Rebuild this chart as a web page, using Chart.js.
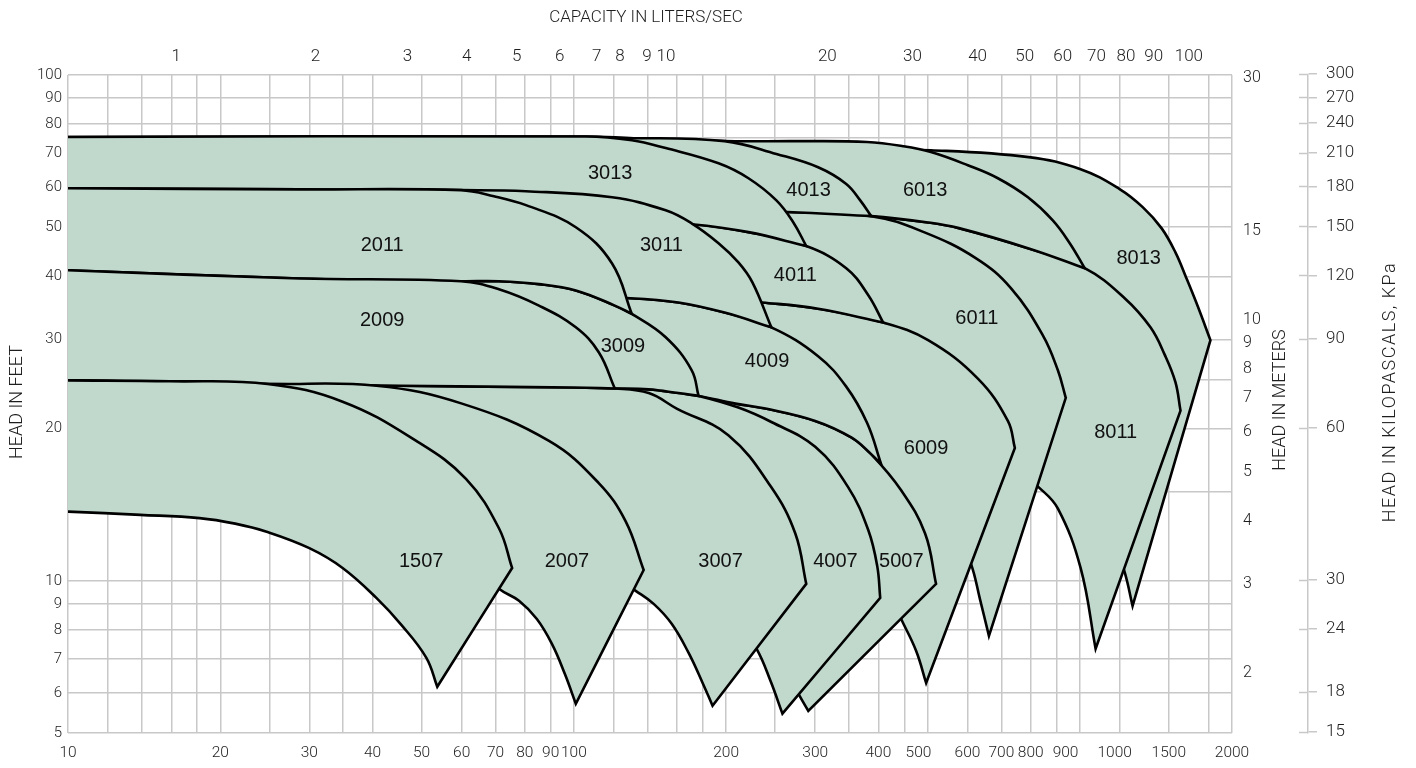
<!DOCTYPE html>
<html>
<head>
<meta charset="utf-8">
<script src="https://cdn.jsdelivr.net/npm/chart.js@4.4.1/dist/chart.umd.min.js"></script>
<style>
  html, body { margin: 0; padding: 0; background: #ffffff; }
  #wrap { width: 1416px; height: 768px; }
</style>
</head>
<body>
<div id="wrap"><canvas id="pumpChart" width="1416" height="768"></canvas></div>
<script>
// Pump selection chart: capacity in US GPM (log) against head in feet (log).
// Each model is an area bounded by its largest and smallest impeller curves.

// ---- axis values ----
const gridGpm = [10,12,14,16,18,20,25,30,35,40,50,60,70,80,90,100,120,140,160,180,200,250,300,350,400,450,500,600,700,800,900,1000,1200,1500,1800,2000];
const gpmLabels = [10,20,30,40,50,60,70,80,90,100,200,300,400,500,600,700,800,900,1000,1500,2000];
const gridFeet = [5,6,7,8,9,10,15,20,25,30,40,50,60,70,75,80,90,100];
const feetLabels = [5,6,7,8,9,10,20,30,40,50,60,70,80,90,100];
const litersPerSec = [1,2,3,4,5,6,7,8,9,10,20,30,40,50,60,70,80,90,100];
const meterLabels = [2,3,4,5,6,7,8,9,10,15,30];
const kpaLabels = [15,18,24,30,60,90,120,150,180,210,240,270,300];

const GPM_PER_LPS = 15.85;
const FT_PER_M = 3.2808;
const KPA_PER_FT = 2.989;

// ---- model curves: [GPM, feet], left to right ----
// "top" = largest impeller curve, "bottom" = smallest impeller curve;
// the last point of each is the right-hand corner / lower tip of the area.
const top1507 = [[10,24.9],[15.9,24.8],[24.8,24.5],[34.9,22.6],[48.8,18.9],[61.2,15.9],[71.1,12.7],[75.5,10.6]];
const bottom1507 = [[10,13.7],[13.9,13.5],[18.2,13.3],[21.4,12.97],[24.7,12.5],[30.0,11.6],[34.9,10.6],[40.7,9.25],[45.6,8.18],[51.1,7.04],[53.7,6.17]];

const top2007 = [[10,24.9],[24.8,24.5],[40.7,24.3],[60.1,22.4],[89.3,18.9],[112,15.6],[126.6,13.1],[137.4,10.5]];
const bottom2007 = [[10,14.7],[22.9,14.4],[36,13.8],[49.5,12.3],[62.1,10.9],[71.1,9.64],[77.9,9.13],[84.5,8.40],[90.5,7.50],[96.0,6.54],[100.9,5.71]];

const top3007 = [[10,24.9],[24.8,24.5],[45.2,24.3],[100,24.1],[120.5,24.0],[140.6,23.5],[159.7,21.9],[202,19.4],[245.7,15.3],[274,12.4],[288,9.86]];
const bottom3007 = [[10,15.5],[28.7,14.4],[56.7,13.4],[89.3,12.0],[112,10.7],[132.5,9.55],[143.8,9.0],[156.1,8.22],[168.6,7.20],[179.7,6.28],[188,5.66]];

const top4007 = [[10,24.9],[24.8,24.5],[45.2,24.3],[100,24.1],[120.5,24.0],[140.6,23.9],[161,23.5],[176.4,23.2],[211.5,22.0],[245.7,20.6],[300,18.4],[348.7,15.3],[381.9,12.6],[397.8,10.7],[403.3,9.25]];
const bottom4007 = [[10,16.5],[45.2,14.1],[89.3,12.6],[140.6,11.0],[176.4,9.55],[206.9,8.53],[229.6,7.34],[244.7,6.34],[258.4,5.46]];

const top5007 = [[10,24.9],[24.8,24.5],[45.2,24.3],[100,24.1],[120.5,24.0],[140.6,23.9],[161,23.5],[176.4,23.2],[208.7,22.4],[239.2,21.9],[300,20.7],[353.5,19.2],[387,17.8],[443.6,15.1],[494.7,12.4],[520,9.86]];
const bottom5007 = [[10,17.5],[45.2,14.4],[112,12.0],[176.4,10.0],[231.7,7.61],[261.8,6.63],[277.8,5.98],[290.7,5.53]];

const top2009 = [[10,41.1],[28.7,39.6],[59.8,39.1],[71.1,37.7],[85.3,35.0],[100.9,31.7],[112,28.3],[120.5,24.0]];
const bottom2009 = [[10,24.9],[24.8,24.5],[45.2,24.3],[100,24.1],[120.5,24.0]];

const top3009 = [[10,41.1],[28.7,39.6],[59.8,39.1],[71.1,39.1],[85.3,38.6],[100.9,37.5],[120.5,35.0],[130.2,33.7],[151.9,30.3],[170.9,26.1],[176.4,23.2]];
const bottom3009 = [[10,24.9],[24.8,24.5],[45.2,24.3],[100,24.1],[120.5,24.0],[140.6,23.9],[161,23.5],[176.4,23.2]];

const top4009 = [[10,36.9],[45.2,36.7],[89.3,36.5],[129.5,36.2],[161,35.5],[198.6,33.9],[245.7,31.7],[304,27.8],[345.5,24.2],[380,20.5],[405,17.0]];
const bottom4009 = [[10,24.9],[24.8,24.5],[45.2,24.3],[100,24.1],[120.5,24.0],[140.6,23.9],[161,23.5],[176.4,23.2],[208.7,22.4],[239.2,21.9],[300,20.7],[353.5,19.2],[387,17.8],[405,17.0]];

const top6009 = [[10,35.8],[59.8,35.8],[112,36.7],[176.4,36.4],[235.9,35.5],[304,34.5],[408.8,32.4],[501.5,29.9],[629,25.1],[721,20.7],[744.4,18.3]];
const bottom6009 = [[10,22.7],[71.1,21.7],[176.4,18.9],[253.7,15.8],[333.2,12.6],[399.6,10.5],[443.6,8.40],[474.8,7.27],[497,6.28]];

const top2011 = [[10,59.7],[28.7,59.4],[59.8,59.2],[69.5,57.6],[80.4,55.3],[100.9,50.0],[119,42.4],[130.2,33.7]];
const bottom2011 = [[10,41.1],[28.7,39.6],[59.8,39.1],[71.1,39.1],[85.3,38.6],[100.9,37.5],[120.5,35.0],[130.2,33.7]];

const top3011 = [[10,59.7],[28.7,59.4],[59.8,59.2],[80.4,58.9],[119,57.3],[151.9,54.0],[170.9,50.9],[193.2,46.5],[211.5,42.6],[225.4,38.9],[245.7,31.7]];
const bottom3011 = [[10,36.9],[45.2,36.7],[89.3,36.5],[129.5,36.2],[161,35.5],[198.6,33.9],[245.7,31.7]];

const top4011 = [[10,49.8],[59.8,50.2],[112,50.5],[170.9,50.7],[221.4,48.9],[288,45.9],[345.5,41.5],[382,36.7],[408.8,32.4]];
const bottom4011 = [[10,35.8],[59.8,35.8],[112,36.7],[176.4,36.4],[235.9,35.5],[304,34.5],[408.8,32.4]];

const top6011 = [[10,55.3],[59.8,54.8],[140.6,54.3],[193.2,54.0],[264.3,53.6],[387,52.6],[492,48.9],[624,43.4],[731,37.9],[845,30.6],[905,26.1],[938.5,23.0]];
const bottom6011 = [[10,29.0],[71.1,31.3],[176.4,28.5],[253.7,24.9],[348.7,20.7],[437.5,17.3],[569,12.6],[609.6,10.8],[635,9.2],[661.5,7.78]];

const top8011 = [[10,55.3],[59.8,54.8],[140.6,54.3],[193.2,54.0],[264.3,53.6],[387,52.6],[501.5,51.1],[577,49.8],[793,45.4],[1023,41.5],[1227,36.2],[1380,31.7],[1472,28.0],[1546,24.7],[1582,21.7]];
const bottom8011 = [[10,33.0],[71.1,35.8],[176.4,34.2],[253.7,31.3],[382,27.3],[501.5,22.7],[629,18.9],[754.6,16.5],[830,15.3],[905,13.9],[1004,10.6],[1075,7.34]];

const top3013 = [[10,75.4],[105.6,75.6],[130.2,74.3],[151.9,71.7],[193.2,66.9],[221.4,62.5],[251.4,56.5],[271.6,51.1],[288,45.9]];
const bottom3013 = [[10,53.6],[59.8,52.8],[112,51.6],[140.6,51.1],[170.9,50.7],[221.4,48.9],[288,45.9]];

const top4013 = [[10,74.3],[105.6,74.3],[131.3,75.0],[198.6,74.0],[251.4,69.8],[304,65.7],[345.5,60.9],[368.2,56.5],[387,52.6]];
const bottom4013 = [[10,55.3],[59.8,54.8],[140.6,54.3],[193.2,54.0],[264.3,53.6],[387,52.6]];

const top6013 = [[10,75.4],[105.6,75.6],[131.3,75.0],[198.6,74.0],[277.8,74.0],[380,73.7],[447.6,72.3],[508,70.4],[601,66.3],[689,62.5],[790,57.3],[884.6,51.6],[955.6,46.5],[1023,41.5]];
const bottom6013 = [[10,55.3],[59.8,54.8],[140.6,54.3],[193.2,54.0],[264.3,53.6],[387,52.6],[501.5,51.1],[577,49.8],[793,45.4],[1023,41.5]];

const top8013 = [[10,71.0],[112,71.0],[384,71.0],[508,71.0],[793,68.8],[1004,65.1],[1199,59.5],[1332,54.8],[1451,49.8],[1546,44.6],[1626,39.6],[1709,35.0],[1813,29.9]];
const bottom8013 = [[10,49.3],[176.4,49.3],[278,48.9],[382,47.1],[501.5,39.3],[658,31.3],[826,23.8],[990,18.1],[1136,13.1],[1227,10.4],[1272,8.92]];

// ---- model name placement [GPM, feet] ----
const modelNames = ['1507','2007','3007','4007','5007','2009','3009','4009','6009','2011','3011','4011','6011','8011','3013','4013','6013','8013'];
const labelGpm  = [49.9, 96.9, 195, 329, 444, 41.8, 125, 241, 497, 41.8, 149, 274, 626, 1178, 118, 291, 495, 1308];
const labelFeet = [10.9, 10.9, 10.9, 10.9, 10.9, 32.7, 29.1, 27.1, 18.3, 46.1, 46.1, 40.2, 33.0, 19.6, 64.0, 59.2, 59.2, 43.4];

// ---- styling ----
const FILL = 'rgb(193,216,205)';
const GRID = 'rgb(200,200,200)';
const INK = '#1e1e1e';
const FAMILY = 'Roboto, "Liberation Sans", sans-serif';
const tickFont = size => ({ family: FAMILY, size, weight: '300' });
const BOTTOM_CSS = '300 15.5px ' + FAMILY;
const TOP_CSS = '300 17px ' + FAMILY;
const TITLE_TOP_CSS = '300 17px ' + FAMILY;
const TITLE_SIDE_CSS = '300 18px ' + FAMILY;
const MODEL_CSS = '20px "Liberation Sans", Arial, sans-serif';
// small horizontal nudges (px) that keep crowded scale labels apart
const gpmLabelShift = { 500: -9, 900: 9, 1000: 35 };
const lpsLabelShift = { 1: 7, 2: -6, 3: -3, 4: -7, 5: -6, 6: -3, 8: -6, 9: -5, 10: -9, 30: -4, 40: -2, 50: -4, 60: -6, 70: -6, 80: -6, 90: -4, 100: 8 };

// Closed outline of a model area: along the top curve, down the right edge
// to the lower tip, then back along the bottom curve. Corner points are
// repeated so the smoothed path keeps them sharp.
function outline(top, bottom) {
  const pts = top.slice();
  const corner = top[top.length - 1];
  pts.push(corner);
  const back = bottom.slice().reverse();
  if (back[0][0] !== corner[0] || back[0][1] !== corner[1]) pts.push(back[0]);
  back.forEach(p => pts.push(p));
  return pts.map(([x, y]) => ({ x, y }));
}

// Listed front to back: smaller models are painted over the larger ones.
const models = [
  ['1507', top1507, bottom1507], ['2007', top2007, bottom2007], ['2009', top2009, bottom2009],
  ['2011', top2011, bottom2011], ['3007', top3007, bottom3007], ['3009', top3009, bottom3009],
  ['3011', top3011, bottom3011], ['3013', top3013, bottom3013], ['4007', top4007, bottom4007],
  ['4009', top4009, bottom4009], ['4011', top4011, bottom4011], ['4013', top4013, bottom4013],
  ['5007', top5007, bottom5007], ['6009', top6009, bottom6009], ['6011', top6011, bottom6011],
  ['6013', top6013, bottom6013], ['8011', top8011, bottom8011], ['8013', top8013, bottom8013]
];

const datasets = models.map(([name, top, bottom]) => ({
  label: name,
  data: outline(top, bottom),
  xAxisID: 'x',
  yAxisID: 'y',
  fill: 'shape',
  backgroundColor: FILL,
  borderColor: '#000000',
  borderWidth: 2.6,
  borderJoinStyle: 'miter',
  tension: 0.4,
  pointRadius: 0,
  pointHoverRadius: 0
}));

const pumpText = {
  id: 'pumpText',
  afterDraw(chart) {
    const { ctx, chartArea: a, scales } = chart;
    const sx = scales.x, st = scales.xTop, sy = scales.y, sk = scales.yK, sm = scales.yM;
    ctx.save();

    // inner half of the kPa tick marks
    ctx.strokeStyle = GRID;
    ctx.lineWidth = 1.5;
    kpaLabels.forEach(v => {
      const py = Math.round(sk.getPixelForValue(v / KPA_PER_FT)) + 0.5;
      ctx.beginPath();
      ctx.moveTo(sk.left - 9, py);
      ctx.lineTo(sk.left, py);
      ctx.stroke();
    });

    ctx.fillStyle = INK;
    ctx.textAlign = 'center';
    ctx.textBaseline = 'middle';

    // capacity (GPM) labels under the plot
    ctx.font = BOTTOM_CSS;
    gpmLabels.forEach(v => {
      ctx.fillText(String(v), sx.getPixelForValue(v) + (gpmLabelShift[v] || 0), a.bottom + 20);
    });

    // capacity (L/s) labels above the plot
    ctx.font = TOP_CSS;
    litersPerSec.forEach(v => {
      ctx.fillText(String(v), st.getPixelForValue(v * GPM_PER_LPS) + (lpsLabelShift[v] || 0), a.top - 18);
    });

    // model numbers
    ctx.font = MODEL_CSS;
    ctx.fillStyle = '#111111';
    modelNames.forEach((n, i) => {
      ctx.fillText(n, sx.getPixelForValue(labelGpm[i]), sy.getPixelForValue(labelFeet[i]));
    });

    // axis titles
    ctx.fillStyle = INK;
    ctx.font = TITLE_TOP_CSS;
    ctx.fillText('CAPACITY IN LITERS/SEC', (a.left + a.right) / 2 - 4, 18);
    ctx.font = TITLE_SIDE_CSS;
    const vertical = (text, x, y, spacing) => {
      ctx.save();
      ctx.translate(x, y);
      ctx.rotate(-Math.PI / 2);
      ctx.letterSpacing = spacing || '0px';
      ctx.fillText(text, 0, 0);
      ctx.restore();
    };
    vertical('HEAD IN FEET', 17, 402);
    vertical('HEAD IN METERS', sm.left + 48, 400);
    vertical('HEAD IN KILOPASCALS, KPa', sk.left + 82, 392, '1.5px');
    ctx.restore();
  }
};

new Chart(document.getElementById('pumpChart'), {
  type: 'line',
  data: { datasets },
  options: {
    responsive: false,
    animation: false,
    events: [],
    layout: { padding: 0 },
    plugins: {
      legend: { display: false },
      tooltip: { enabled: false },
      filler: { propagate: false }
    },
    scales: {
      x: {
        type: 'logarithmic', position: 'bottom', min: 10, max: 2000, z: 1,
        afterBuildTicks: s => { s.ticks = gridGpm.map(v => ({ value: v })); },
        afterFit: s => { s.height = 35; },
        grid: { color: GRID, lineWidth: 1.5, drawTicks: false },
        border: { display: false },
        ticks: { display: false }
      },
      xTop: {
        type: 'logarithmic', position: 'top', min: 10, max: 2000,
        afterBuildTicks: s => { s.ticks = litersPerSec.map(v => ({ value: v * GPM_PER_LPS })); },
        afterFit: s => { s.height = 75; },
        grid: { display: false, drawTicks: false },
        border: { display: false },
        ticks: { display: false }
      },
      y: {
        type: 'logarithmic', position: 'left', min: 5, max: 100, z: 1,
        afterBuildTicks: s => { s.ticks = gridFeet.map(v => ({ value: v })); },
        afterFit: s => { s.width = 68; },
        grid: { color: GRID, lineWidth: 1.5, drawTicks: false },
        border: { display: false },
        ticks: {
          callback: v => (feetLabels.includes(v) ? String(v) : ''),
          font: tickFont(15), color: INK, padding: 6, autoSkip: false
        }
      },
      yM: {
        type: 'logarithmic', position: 'right', min: 5, max: 100, weight: 1,
        afterBuildTicks: s => { s.ticks = meterLabels.map(v => ({ value: v * FT_PER_M })); },
        afterFit: s => { s.width = 76; },
        grid: { display: false, drawTicks: false },
        border: { display: false },
        ticks: {
          callback: (v, i) => String(meterLabels[i]),
          font: tickFont(16), color: INK, padding: 11, autoSkip: false
        }
      },
      yK: {
        type: 'logarithmic', position: 'right', min: 5, max: 100, weight: 2,
        afterBuildTicks: s => { s.ticks = kpaLabels.map(v => ({ value: v / KPA_PER_FT })); },
        afterFit: s => { s.width = 108; },
        grid: { display: true, drawOnChartArea: false, drawTicks: true, tickLength: 9, color: GRID, lineWidth: 1.5 },
        border: { display: true, color: GRID, width: 1.5 },
        ticks: {
          callback: (v, i) => String(kpaLabels[i]),
          font: tickFont(17), color: INK, padding: 9, autoSkip: false
        }
      }
    }
  },
  plugins: [pumpText]
});
</script>
</body>
</html>
